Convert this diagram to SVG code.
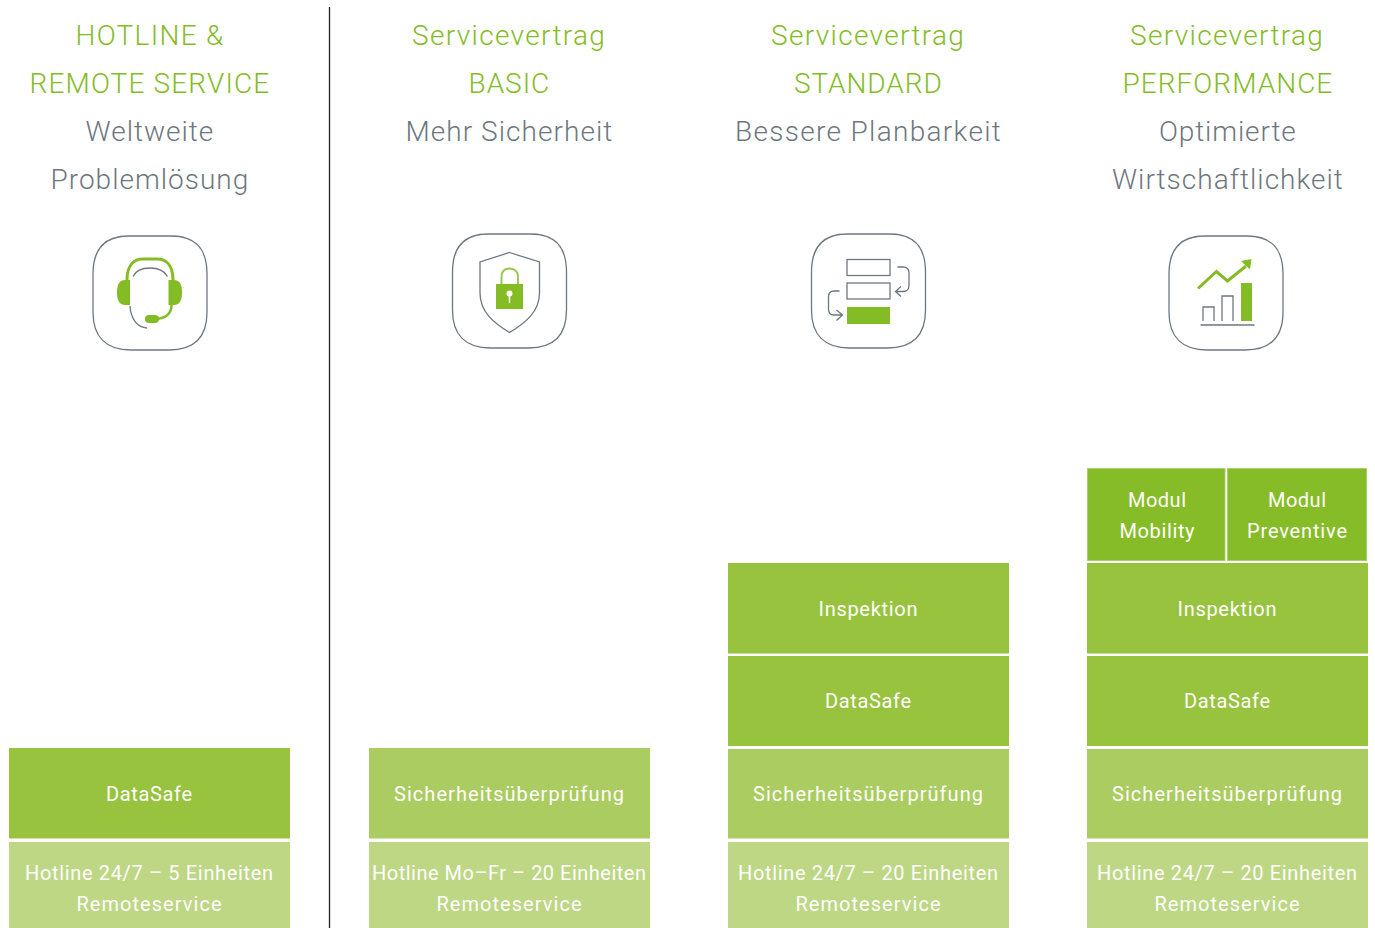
<svg xmlns="http://www.w3.org/2000/svg" width="1375" height="928" viewBox="0 0 1375 928">
<defs><style>
text{font-family:"Roboto","Liberation Sans",sans-serif;text-anchor:middle;font-weight:300}
.h{font-size:28px;letter-spacing:1.2px}
.g{fill:#84bc26}.s{fill:#6d7780}
.b{font-size:20px;letter-spacing:1px;fill:#fff;font-weight:400}
.l{fill:none;stroke:#6d7780;stroke-width:1.3}
.gl{fill:none;stroke:#84bc26}
.gf{fill:#84bc26}
.c0{fill:#86bc27;stroke:#a9cf6b;stroke-width:1}.c1{fill:#97c33e}.c2{fill:#abcc60}.c3{fill:#bdd784}
</style>
<path id="sq" d="M36 0H78C103 0 114 13 114 38V76C114 101 101 114 76 114H38C13 114 0 101 0 76V38C0 13 11 0 36 0Z" fill="#fff" stroke="#6d7780" stroke-width="1.3"/>
</defs>
<rect width="1375" height="928" fill="#fff"/>
<g id="connectors"><line x1="329.5" y1="7" x2="329.5" y2="928" stroke="#222" stroke-width="1.3"/></g>

<g id="col1-header">
<text class="h g" x="150" y="45" textLength="149">HOTLINE &amp;</text>
<text class="h g" x="150" y="93" textLength="241">REMOTE SERVICE</text>
<text class="h s" x="150" y="141" textLength="129">Weltweite</text>
<text class="h s" x="150" y="189" textLength="199">Problemlösung</text>
</g>
<g id="col2-header">
<text class="h g" x="509" y="45" textLength="194">Servicevertrag</text>
<text class="h g" x="509.500" y="93" textLength="82">BASIC</text>
<text class="h s" x="509.500" y="141" textLength="208">Mehr Sicherheit</text>
</g>
<g id="col3-header">
<text class="h g" x="868" y="45" textLength="194">Servicevertrag</text>
<text class="h g" x="868.500" y="93" textLength="149">STANDARD</text>
<text class="h s" x="868.500" y="141" textLength="267">Bessere Planbarkeit</text>
</g>
<g id="col4-header">
<text class="h g" x="1227" y="45" textLength="194">Servicevertrag</text>
<text class="h g" x="1228" y="93" textLength="211">PERFORMANCE</text>
<text class="h s" x="1228" y="141" textLength="138">Optimierte</text>
<text class="h s" x="1228" y="189" textLength="232">Wirtschaftlichkeit</text>
</g>

<g id="icon-headset">
<use href="#sq" x="93" y="236"/>
<path class="gf" d="M130 280H125C119 280 117 285 117 292.500C117 300 119 305 125 305H130Z"/>
<path class="gf" d="M168.500 280H174C180 280 182 285 182 292.500C182 300 180 305 174 305H168.500Z"/>
<path class="gl" stroke-width="3" d="M127 280C127 265 134 259 143 259H157C166 259 173 265 173 280"/>
<path class="l" d="M133 276.500C136 270 142 268 150 268C158 268 164 270 167.500 276.500"/>
<path class="l" d="M130 306C131 319 137 327.500 147 328"/>
<rect class="gf" x="145" y="315" width="14" height="8" rx="4"/>
<path class="gl" stroke-width="2.500" d="M157 319C165 318 171.500 314 171.500 305"/>
</g>
<g id="icon-shield">
<use href="#sq" x="452.500" y="234"/>
<path class="l" d="M509.500 252.500L539.500 262V293C539.500 312 525 323 509.500 332.500C494 323 480 312 480 293V262Z"/>
<path fill="none" stroke="#9cc84f" stroke-width="2" d="M501.500 284V277C501.500 271 505 268.500 509.500 268.500C514 268.500 518 271 518 277V284"/>
<rect class="gf" x="496" y="284" width="27" height="25"/>
<circle cx="509.500" cy="293.500" r="3" fill="#fff"/>
<line x1="509.500" y1="295" x2="509.500" y2="303" stroke="#fff" stroke-width="1.500"/>
</g>
<g id="icon-plan">
<use href="#sq" x="811.500" y="234"/>
<rect class="l" x="847" y="259.500" width="43" height="16"/>
<rect class="l" x="847" y="283" width="43" height="16"/>
<rect class="gf" x="847" y="307" width="43" height="17"/>
<path class="l" d="M897.500 267H903C907 267 909 269 909 273V285C909 289.500 907 291.500 903 291.500H895.500M901 286.500L895.500 291.500L901 296.500"/>
<path class="l" d="M839.500 291H834C830 291 828.500 293 828.500 297V309C828.500 313 830 315 834 315H842.500M836.500 310L842.500 315L836.500 320.500"/>
</g>
<g id="icon-chart">
<use href="#sq" x="1169" y="236"/>
<path class="gl" stroke-width="3" d="M1198 288.500L1216.500 271.500L1227.500 281L1246 266"/>
<path class="gf" d="M1241 261L1251.500 259L1250 269.500Z"/>
<rect class="gf" x="1241" y="283" width="11" height="38"/>
<path class="l" d="M1203 321V307H1214V321M1222 321V296H1233V321M1200.500 325H1254.500"/>
</g>

<g id="col1-boxes">
<rect class="c1" x="9" y="748" width="281" height="90.500"/>
<text class="b" x="149.500" y="800.500" textLength="87">DataSafe</text>
<rect class="c3" x="9" y="842" width="281" height="86"/>
<text class="b" x="149.500" y="879.500" textLength="249">Hotline 24/7 – 5 Einheiten</text>
<text class="b" x="149.500" y="910.500" textLength="146">Remoteservice</text>
</g>
<g id="col2-boxes">
<rect class="c2" x="369" y="748" width="281" height="90.500"/>
<text class="b" x="509.500" y="800.500" textLength="231">Sicherheitsüberprüfung</text>
<rect class="c3" x="369" y="842" width="281" height="86"/>
<text class="b" x="509.500" y="879.500" textLength="275">Hotline Mo–Fr – 20 Einheiten</text>
<text class="b" x="509.500" y="910.500" textLength="146">Remoteservice</text>
</g>
<g id="col3-boxes">
<rect class="c1" x="728" y="563" width="281" height="90.500"/>
<text class="b" x="868.500" y="615.500" textLength="100">Inspektion</text>
<rect class="c1" x="728" y="656" width="281" height="90"/>
<text class="b" x="868.500" y="708" textLength="87">DataSafe</text>
<rect class="c2" x="728" y="749" width="281" height="89.500"/>
<text class="b" x="868.500" y="800.500" textLength="231">Sicherheitsüberprüfung</text>
<rect class="c3" x="728" y="842" width="281" height="86"/>
<text class="b" x="868.500" y="879.500" textLength="261">Hotline 24/7 – 20 Einheiten</text>
<text class="b" x="868.500" y="910.500" textLength="146">Remoteservice</text>
</g>
<g id="col4-boxes">
<rect class="c0" x="1087.500" y="468.500" width="137.500" height="92"/>
<text class="b" x="1157.500" y="506.500" textLength="59">Modul</text>
<text class="b" x="1157.500" y="537.500" textLength="76">Mobility</text>
<rect class="c0" x="1227.500" y="468.500" width="139" height="92"/>
<text class="b" x="1297.500" y="506.500" textLength="59">Modul</text>
<text class="b" x="1297.500" y="537.500" textLength="101">Preventive</text>
<rect class="c1" x="1087" y="563" width="281" height="90.500"/>
<text class="b" x="1227.500" y="615.500" textLength="100">Inspektion</text>
<rect class="c1" x="1087" y="656" width="281" height="90"/>
<text class="b" x="1227.500" y="708" textLength="87">DataSafe</text>
<rect class="c2" x="1087" y="749" width="281" height="89.500"/>
<text class="b" x="1227.500" y="800.500" textLength="231">Sicherheitsüberprüfung</text>
<rect class="c3" x="1087" y="842" width="281" height="86"/>
<text class="b" x="1227.500" y="879.500" textLength="261">Hotline 24/7 – 20 Einheiten</text>
<text class="b" x="1227.500" y="910.500" textLength="146">Remoteservice</text>
</g>
</svg>
